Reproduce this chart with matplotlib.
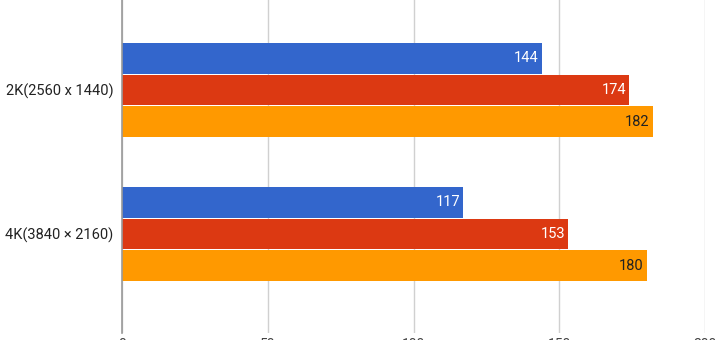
import numpy as np
import matplotlib.pyplot as plt

plt.rcParams['font.family'] = ['Roboto', 'DejaVu Sans']

# Resolutions and the three series (one bar per series per resolution)
categories = ['2K(2560 x 1440)', '4K(3840 × 2160)']
series_1 = [144, 117]
series_2 = [174, 153]
series_3 = [182, 180]
colors = ['#3366cc', '#dc3912', '#ff9900']
label_colors = ['white', 'white', '#222222']
x_ticks = [0, 50, 100, 150, 200]

fig = plt.figure(figsize=(7.2, 3.4), dpi=100)
ax = fig.add_axes([122 / 720, 7 / 340, (705 - 122) / 720, 333 / 340])

y = np.arange(len(categories))
bar_h = 0.215
offsets = [-0.222, 0.0, 0.222]

for vals, off, col, lc in zip([series_1, series_2, series_3], offsets, colors, label_colors):
    bars = ax.barh(y + off, vals, height=bar_h, color=col, edgecolor='none')
    for b, v in zip(bars, vals):
        ax.text(b.get_width() - 1.0, b.get_y() + b.get_height() / 2, str(v),
                ha='right', va='center', color=lc, fontsize=10.5)

ax.set_xlim(0, 200)
ax.set_ylim(1 + 99 / 144, -90 / 144)
ax.set_xticks(x_ticks)
ax.set_xticklabels([str(t) for t in x_ticks], color='#444444', fontsize=10)
ax.tick_params(axis='x', length=0, pad=3.5)
ax.set_yticks(y)
ax.set_yticklabels(categories, color='#222222', fontsize=10.5)
ax.tick_params(axis='y', length=0, pad=6)

ax.grid(axis='x', color='#d0d0d0', linewidth=1)
ax.set_axisbelow(True)
for s in ['top', 'right', 'bottom']:
    ax.spines[s].set_visible(False)
ax.spines['left'].set_color('#999999')
ax.spines['left'].set_linewidth(1.2)
ax.spines['left'].set_zorder(3)

fig.savefig('out.png', dpi=100)
